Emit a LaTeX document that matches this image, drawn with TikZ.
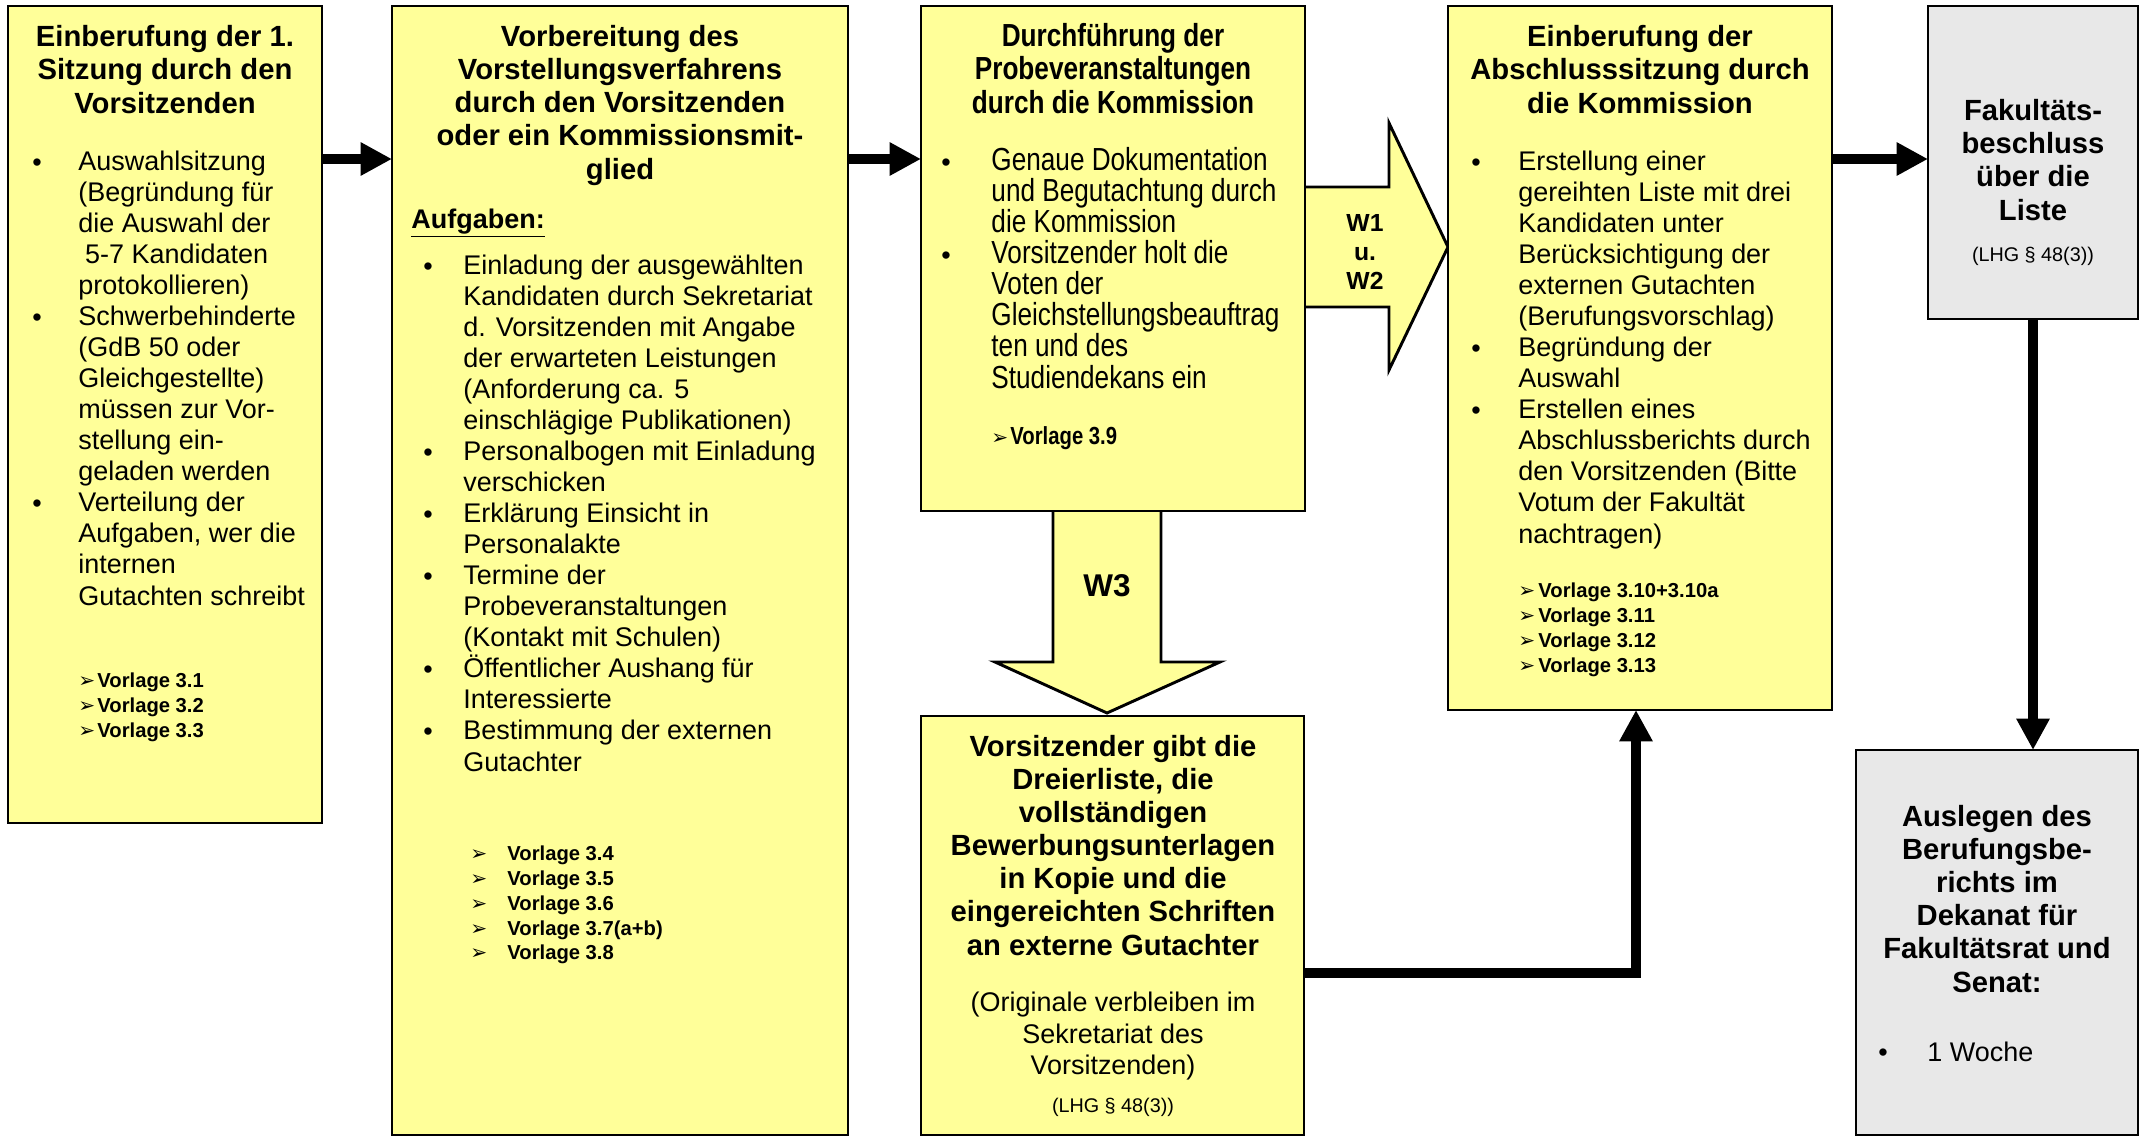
\documentclass[tikz,border=0pt]{standalone}
\usepackage{fontspec}
\setmainfont{Liberation Sans}
\newfontfamily\narrowfont[FakeStretch=0.82]{Liberation Sans}
\newfontfamily\pfeilfont{DejaVu Sans}
\usetikzlibrary{arrows.meta,fit}
\definecolor{gelb}{RGB}{255,255,153}
\definecolor{grau}{RGB}{232,232,232}
\newcommand{\pf}{{\pfeilfont ➢}}
\lineskiplimit=-20pt

\begin{document}
\begin{tikzpicture}[x=0.445pt, y=-0.445pt, line join=miter,
	kasten/.style={draw, line width=1.3pt, fill=gelb, inner sep=0pt, outer sep=0pt},
	graukasten/.style={kasten, fill=grau},
	blockpfeil/.style={draw, line width=1.3pt, fill=gelb},
	pfeil/.style={line width=4.4pt, -{Triangle[length=14pt,width=14pt]}},
	titel/.style={font=\fontsize{13}{14.7}\selectfont\bfseries, align=center, anchor=base, inner sep=0pt},
	inhalt/.style={font=\fontsize{12}{13.8}\selectfont, align=left, anchor=base west, inner sep=0pt},
	punkt/.style={font=\fontsize{12}{13.8}\selectfont, anchor=base, inner sep=0pt},
	vorlage/.style={font=\fontsize{9}{11}\selectfont\bfseries, align=left, anchor=base west, inner sep=0pt},
	schmal/.style={font=\fontsize{14.2}{13.8}\narrowfont, align=left, anchor=base west, inner sep=0pt},
	klein/.style={font=\fontsize{8.8}{10}\selectfont, anchor=base, inner sep=0pt}]
	\useasboundingbox (0,0) rectangle (2149,1139);
	% Hinweis: Mehrzeilige Knoten stehen mit der Grundlinie ihrer letzten Zeile
	
	% Blockpfeile W1 u. W2 und W3
	\filldraw[blockpfeil] (1305,187) -- (1389,187) -- (1389,123) -- (1448,247) -- (1389,370) -- (1389,307) -- (1305,307);
	\filldraw[blockpfeil] (1053,511) -- (1053,662) -- (995,662) -- (1107,713) -- (1220,662) -- (1161,662) -- (1161,511);
	\node[font=\fontsize{11}{12.9}\selectfont\bfseries, align=center, anchor=base, inner sep=0pt] (w12) at (1365,231+2*29) {W1\\u.\\W2};
	\node[font=\fontsize{14}{16}\selectfont\bfseries, anchor=base, inner sep=0pt] (w3) at (1107,596) {W3};
	
	% Kasten 1: Einberufung der 1. Sitzung
	\node[kasten, fit={(8,6) (322,823)}] (einb) {};
	\node[titel] (einb-t) at (165,47+2*33) {Einberufung der 1.\\Sitzung durch den\\Vorsitzenden};
	\node[inhalt] (einb-l) at (78,171+14*31) {Auswahlsitzung\\(Begründung für\\die Auswahl der\\\hspace*{3pt}5-7 Kandidaten\\protokollieren)\\Schwerbehinderte\\(GdB 50 oder\\Gleichgestellte)\\müssen zur Vor-\\stellung ein-\\geladen werden\\Verteilung der\\Aufgaben, wer die\\internen\\Gutachten schreibt};
	\foreach \z in {0,5,11} \node[punkt] (einb-p\z) at (37,171+31*\z) {•};
	\node[vorlage] (einb-pf) at (78,688+2*24.7) {\pf\\\pf\\\pf};
	\node[vorlage] (einb-v) at (97,688+2*24.7) {Vorlage 3.1\\Vorlage 3.2\\Vorlage 3.3};
	
	% Kasten 2: Vorbereitung des Vorstellungsverfahrens
	\node[kasten, fit={(392,6) (848,1135)}] (vorb) {};
	\node[titel] (vorb-t) at (620,47+4*33) {Vorbereitung des\\Vorstellungsverfahrens\\durch den Vorsitzenden\\oder ein Kommissionsmit-\\glied};
	\node[inhalt, font=\fontsize{12}{13.8}\selectfont\bfseries] (vorb-a) at (411,228) {\underline{Aufgaben:}};
	\node[inhalt] (vorb-l) at (463,275+16*31) {Einladung der ausgewählten\\Kandidaten durch Sekretariat\\d. Vorsitzenden mit Angabe\\der erwarteten Leistungen\\(Anforderung ca. 5\\einschlägige Publikationen)\\Personalbogen mit Einladung\\verschicken\\Erklärung Einsicht in\\Personalakte\\Termine der\\Probeveranstaltungen\\(Kontakt mit Schulen)\\Öffentlicher Aushang für\\Interessierte\\Bestimmung der externen\\Gutachter};
	\foreach \z in {0,6,8,10,13,15} \node[punkt] (vorb-p\z) at (428,275+31*\z) {•};
	\node[vorlage] (vorb-pf) at (470,861+4*24.7) {\pf\\\pf\\\pf\\\pf\\\pf};
	\node[vorlage] (vorb-v) at (507,861+4*24.7) {Vorlage 3.4\\Vorlage 3.5\\Vorlage 3.6\\Vorlage 3.7(a+b)\\Vorlage 3.8};
	
	% Kasten 3: Durchführung der Probeveranstaltungen
	\node[kasten, fit={(921,6) (1305,511)}] (durch) {};
	\node[titel, font=\fontsize{14.2}{14.7}\narrowfont\bfseries] (durch-t) at (1113,47+2*33) {Durchführung der\\Probeveranstaltungen\\durch die Kommission};
	\node[schmal] (durch-l) at (991,171+7*31) {Genaue Dokumentation\\und Begutachtung durch\\die Kommission\\Vorsitzender holt die\\Voten der\\Gleichstellungsbeauftrag\\ten und des\\Studiendekans ein};
	\foreach \z in {0,3} \node[punkt] (durch-p\z) at (946,171+31*\z) {•};
	\node[vorlage] (durch-pf) at (991,444) {\pf};
	\node[vorlage, font=\fontsize{11}{12}\narrowfont\bfseries] (durch-v) at (1010,444) {Vorlage 3.9};
	
	% Kasten 4: Einberufung der Abschlusssitzung
	\node[kasten, fit={(1448,6) (1832,710)}] (absch) {};
	\node[titel] (absch-t) at (1640,47+2*33) {Einberufung der\\Abschlusssitzung durch\\die Kommission};
	\node[inhalt] (absch-l) at (1518,171+12*31) {Erstellung einer\\gereihten Liste mit drei\\Kandidaten unter\\Berücksichtigung der\\externen Gutachten\\(Berufungsvorschlag)\\Begründung der\\Auswahl\\Erstellen eines\\Abschlussberichts durch\\den Vorsitzenden (Bitte\\Votum der Fakultät\\nachtragen)};
	\foreach \z in {0,6,8} \node[punkt] (absch-p\z) at (1476,171+31*\z) {•};
	\node[vorlage] (absch-pf) at (1518,598+3*24.7) {\pf\\\pf\\\pf\\\pf};
	\node[vorlage] (absch-v) at (1538,598+3*24.7) {Vorlage 3.10+3.10a\\Vorlage 3.11\\Vorlage 3.12\\Vorlage 3.13};
	
	% Kasten 5: Fakultätsbeschluss
	\node[graukasten, fit={(1928,6) (2138,319)}] (fak) {};
	\node[titel] (fak-t) at (2033,121+3*33) {Fakultäts-\\beschluss\\über die\\Liste};
	\node[klein] (fak-g) at (2033,261) {(LHG § 48(3))};
	
	% Kasten 6: Auslegen des Berufungsberichts
	\node[graukasten, fit={(1856,750) (2138,1135)}] (ausl) {};
	\node[titel] (ausl-t) at (1997,827+5*33) {Auslegen des\\Berufungsbe-\\richts im\\Dekanat für\\Fakultätsrat und\\Senat:};
	\node[punkt] (ausl-p) at (1883,1061) {•};
	\node[inhalt] (ausl-l) at (1927,1061) {1 Woche};
	
	% Kasten 7: Versand an externe Gutachter
	\node[kasten, fit={(921,716) (1304,1135)}] (gibt) {};
	\node[titel] (gibt-t) at (1113,757+6*33) {Vorsitzender gibt die\\Dreierliste, die\\vollständigen\\Bewerbungsunterlagen\\in Kopie und die\\eingereichten Schriften\\an externe Gutachter};
	\node[inhalt, anchor=base, align=center] (gibt-o) at (1113,1012+2*31) {(Originale verbleiben im\\Sekretariat des\\Vorsitzenden)};
	\node[klein] (gibt-g) at (1113,1112) {(LHG § 48(3))};
	
	% Verbindungspfeile
	\coordinate (reihe) at (0,159);
	\coordinate (knick) at (1636,973);
	\draw[pfeil] (einb.east |- reihe) -- (vorb.west |- reihe);
	\draw[pfeil] (vorb.east |- reihe) -- (durch.west |- reihe);
	\draw[pfeil] (absch.east |- reihe) -- (fak.west |- reihe);
	\draw[pfeil] (fak.south) -- (fak.south |- ausl.north);
	\draw[pfeil] (gibt.east |- knick) -| (absch.south -| knick);
\end{tikzpicture}
\end{document}
